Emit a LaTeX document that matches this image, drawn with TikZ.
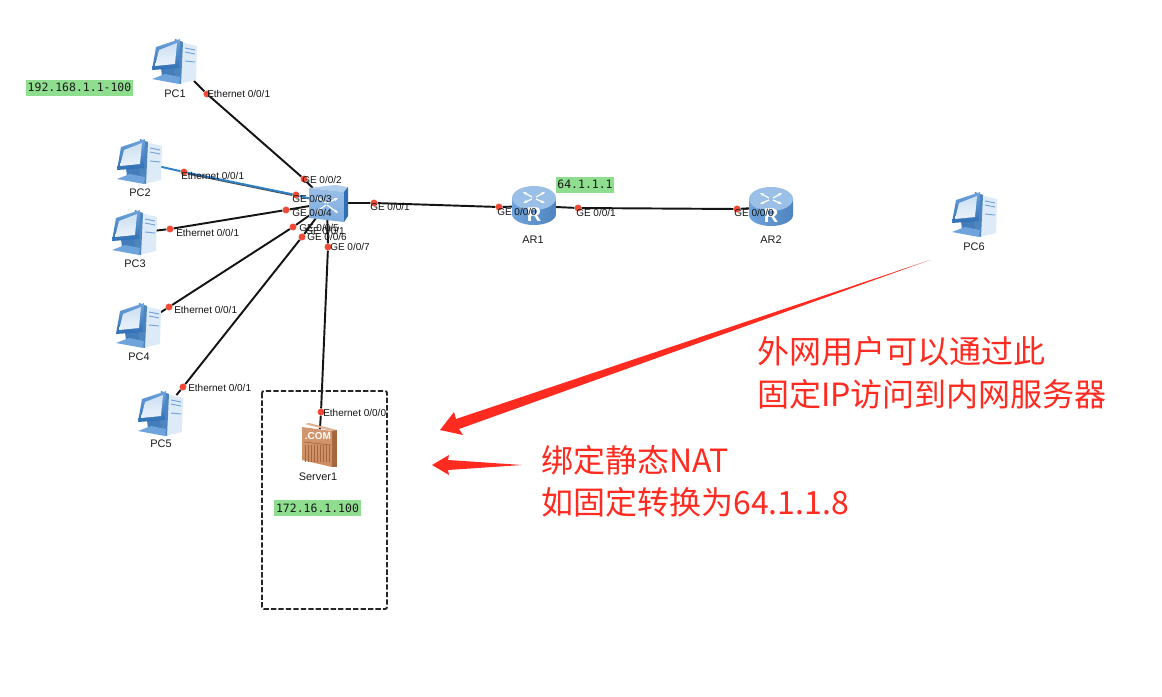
\documentclass[tikz,border=0pt]{standalone}
\usepackage{fontspec}
\setmainfont{Liberation Sans}
\newfontfamily\cjkfont{Noto Sans CJK SC}
\newfontfamily\ipfont{DejaVu Sans Mono}
\usetikzlibrary{arrows.meta}
\definecolor{linkblue}{HTML}{2F80C4}
\definecolor{portred}{HTML}{F04A35}
\definecolor{notered}{HTML}{FF2A20}
\definecolor{tagbg}{HTML}{8FDD8F}
\definecolor{iconlight}{HTML}{DDEAF7}
\definecolor{iconmid}{HTML}{6FA3DC}
\definecolor{icondark}{HTML}{2F6FB4}
\definecolor{srvface}{HTML}{CE8C60}
\definecolor{srvdark}{HTML}{A2673F}
\tikzset{
  x=0.75pt, y=-0.75pt,
  link/.style={line width=1.45pt, black!92},
  portdot/.style={circle, fill=portred, inner sep=0pt, minimum size=5.2pt},
  portlabel/.style={anchor=west, inner sep=0pt, font=\fontsize{7.5}{9}\selectfont, text=black!92},
  devlabel/.style={inner sep=0pt, font=\fontsize{8.2}{10}\selectfont, text=black!90},
  iptag/.style={fill=tagbg, inner sep=0pt, font=\ipfont\fontsize{8.6}{10}\selectfont, text=black!90, minimum height=12pt},
  devbox/.style={inner sep=0pt, minimum width=30pt, minimum height=28pt},
  smallbox/.style={inner sep=0pt, minimum width=22pt, minimum height=22pt},
  note/.style={anchor=west, inner sep=0pt, font=\cjkfont\fontsize{24}{28}\selectfont, text=notered},
  computer/.pic={
    % tower
    \fill[iconlight] (5,-20) -- (22,-16) -- (21,18) -- (4,22) -- cycle;
    \fill[icondark!85] (0,-23) -- (8,-20) -- (6,22) -- (-3,19) -- cycle;
    \draw[iconmid, line width=0.7pt] (10,-14) -- (20,-12) (10,-10) -- (20,-8) (10,-1) -- (20,0);
    % stand and foot
    \fill[icondark!90] (-14,6) -- (-1,6) -- (0,15) -- (-13,15) -- cycle;
    \fill[iconmid] (-23,17) -- (-10,12) -- (5,15) -- (4,22) -- cycle;
    % monitor
    \shade[top color=iconmid, bottom color=icondark] (-19,-15) -- (5,-23) -- (4,6) -- (-23,8) -- cycle;
    \shade[top color=iconlight!85!iconmid, bottom color=iconlight!60!white] (-16,-12) -- (2,-19) -- (0,2) -- (-20,4) -- cycle;
  },
  switchicon/.pic={
    \fill[iconlight!60!iconmid] (-18,-15) -- (8,-18) -- (21,-16) -- (17,-11) -- cycle;
    \shade[top color=iconmid!70, bottom color=iconmid!90] (-18,-15) -- (17,-11) -- (17,19) -- (-18,15) -- cycle;
    \fill[icondark] (17,-11) -- (21,-16) -- (21,13) -- (17,19) -- cycle;
    \draw[white, line width=0.9pt, -{Stealth[length=3pt]}] (-1,0) -- (-11,-6);
    \draw[white, line width=0.9pt, -{Stealth[length=3pt]}] (0,0) -- (11,-5);
    \draw[white, line width=0.9pt, -{Stealth[length=3pt]}] (-1,2) -- (-11,9);
    \draw[white, line width=0.9pt, -{Stealth[length=3pt]}] (0,2) -- (11,10);
  },
  routericon/.pic={
    \shade[left color=iconmid, right color=icondark!85] (-22,-8) -- (-22,8) arc[start angle=180, end angle=0, x radius=22, y radius=11] -- (22,-8) -- cycle;
    \fill[iconmid!60!iconlight] (0,-8) ellipse[x radius=22, y radius=12];
    \draw[white, line width=0.9pt, -{Stealth[length=3pt]}] (-2,-9) -- (-11,-14);
    \draw[white, line width=0.9pt, -{Stealth[length=3pt]}] (2,-9) -- (11,-14);
    \draw[white, line width=0.9pt, -{Stealth[length=3pt]}] (-2,-7) -- (-11,-3);
    \draw[white, line width=0.9pt, -{Stealth[length=3pt]}] (2,-7) -- (11,-3);
    \node[inner sep=0pt, text=white, font=\bfseries\fontsize{15}{15}\selectfont] at (0,9) {R};
  },
  servericon/.pic={
    \fill[srvdark] (13,-14) -- (18,-14) -- (18,23) -- (13,23) -- cycle;
    \fill[srvface!70!white] (-14,-20) -- (-10,-21) -- (18,-14) -- (13,-13) -- cycle;
    \shade[top color=srvface!90!white, bottom color=srvface] (-17,-17) -- (13,-13) -- (13,23) -- (-17,16) -- cycle;
    \foreach \gx in {-14,-11,...,10} \draw[srvdark, line width=0.5pt] (\gx,1) -- (\gx,18);
    \draw[srvdark, line width=0.5pt] (-15,-2) -- (12,1);
    \node[inner sep=0pt, text=white, font=\bfseries\fontsize{7.5}{8}\selectfont] at (-1,-8) {.COM};
  },
}
\begin{document}
\begin{tikzpicture}
\useasboundingbox[fill=white] (0,0) rectangle (1162,696);

% Device anchors
\node[devbox] (pc1) at (175,62) {};
\node[devbox] (pc2) at (140,162) {};
\node[devbox] (pc3) at (135,233) {};
\node[devbox] (pc4) at (139,326) {};
\node[devbox] (pc5) at (161,414) {};
\node[devbox] (pc6) at (975,215) {};
\node[smallbox] (sw) at (327,203) {};
\node[devbox] (ar1) at (534,206) {};
\node[devbox] (ar2) at (771,207) {};
\node[smallbox] (srv) at (319,444) {};

% Port markers
\node[portdot] (p1a) at (207,94) {};
\node[portdot] (p1b) at (304,179) {};
\node[portdot] (p2a) at (184,172) {};
\node[portdot] (p2b) at (296,195) {};
\node[portdot] (p3a) at (170,229) {};
\node[portdot] (p3b) at (286,210) {};
\node[portdot] (p4a) at (169,307) {};
\node[portdot] (p4b) at (293,227) {};
\node[portdot] (p5a) at (183,387) {};
\node[portdot] (p5b) at (302,237) {};
\node[portdot] (p7a) at (328,247) {};
\node[portdot] (p7b) at (321,412) {};
\node[portdot] (r1a) at (374,203) {};
\node[portdot] (r1b) at (499,207) {};
\node[portdot] (r2a) at (578,208) {};
\node[portdot] (r2b) at (737,209) {};

% Links
\draw[link] (pc1) -- (p1a) -- (p1b) -- (sw);
\draw[link, line width=1.4pt, black!70, transform canvas={yshift=-0.6pt}] (p2a) -- (p2b);
\draw[link, linkblue] (pc2) -- (p2a) -- (p2b) -- (sw);
\draw[link] (pc3) -- (p3a) -- (p3b) -- (sw);
\draw[link] (pc4) -- (p4a) -- (p4b) -- (sw);
\draw[link] (pc5) -- (p5a) -- (p5b) -- (sw);
\draw[link] (sw) -- (p7a) -- (p7b) -- (srv);
\draw[link] (sw) -- (r1a) -- (r1b) -- (ar1);
\draw[link] (ar1) -- (r2a) -- (r2b) -- (ar2);

% Device icons
\pic at (pc1) {computer};
\pic at (pc2) {computer};
\pic at (pc3) {computer};
\pic at (pc4) {computer};
\pic at (pc5) {computer};
\pic at (pc6) {computer};
\pic at (sw) {switchicon};
\pic at (ar1) {routericon};
\pic at (ar2) {routericon};
\pic at (srv) {servericon};

% Device names
\node[devlabel] (n1) at (175,94) {PC1};
\node[devlabel] (n2) at (140,193) {PC2};
\node[devlabel] (n3) at (135,264) {PC3};
\node[devlabel] (n4) at (139,357) {PC4};
\node[devlabel] (n5) at (161,444) {PC5};
\node[devlabel] (n6) at (974,247) {PC6};
\node[devlabel] (n7) at (533,240) {AR1};
\node[devlabel] (n8) at (771,240) {AR2};
\node[devlabel] (n9) at (318,477) {Server1};

% Interface names
\node[portlabel] (e1) at (207,94) {Ethernet 0/0/1};
\node[portlabel] (e2) at (181,176) {Ethernet 0/0/1};
\node[portlabel] (e3) at (176,233) {Ethernet 0/0/1};
\node[portlabel] (e4) at (174,310) {Ethernet 0/0/1};
\node[portlabel] (e5) at (188,388) {Ethernet 0/0/1};
\node[portlabel] (e6) at (323,413) {Ethernet 0/0/0};
\node[portlabel] (g2) at (302,180) {GE 0/0/2};
\node[portlabel] (g3) at (292,199) {GE 0/0/3};
\node[portlabel] (g4) at (292,213) {GE 0/0/4};
\node[portlabel] (g5) at (299,228) {GE 0/0/5};
\node[portlabel] (g1x) at (305,231) {GE 0/0/1};
\node[portlabel] (g6) at (307,237) {GE 0/0/6};
\node[portlabel] (g7) at (330,247) {GE 0/0/7};
\node[portlabel] (g1) at (370,207) {GE 0/0/1};
\node[portlabel] (a10) at (497,212) {GE 0/0/0};
\node[portlabel] (a11) at (576,213) {GE 0/0/1};
\node[portlabel] (a20) at (734,213) {GE 0/0/0};

% Address tags
\node[iptag, minimum width=80pt] (t1) at (79.5,87.5) {192.168.1.1-100};
\node[iptag, minimum width=43.5pt] (t2) at (585,184.5) {64.1.1.1};
\node[iptag, minimum width=65pt] (t3) at (317.5,508) {172.16.1.100};

% Server zone
\draw[line width=1.4pt, black!85, dashed, dash pattern=on 4pt off 1.6pt, rounded corners=1.5pt] (262,391) rectangle (387,609);

% Hand-drawn tapered arrows
\fill[notered] (440,430) -- (454,412) -- (456,419) -- (930,260) -- (459,429) -- (463,435) -- cycle;
\fill[notered] (432,465) -- (449,455) -- (448,460) -- (522,465) -- (448,470) -- (449,475) -- cycle;

% Notes
\node[note] (c1) at (757,351) {外网用户可以通过此};
\node[note] (c2) at (757,394) {固定IP访问到内网服务器};
\node[note] (c3) at (541,460) {绑定静态NAT};
\node[note] (c4) at (541,502) {如固定转换为64.1.1.8};
\end{tikzpicture}
\end{document}
